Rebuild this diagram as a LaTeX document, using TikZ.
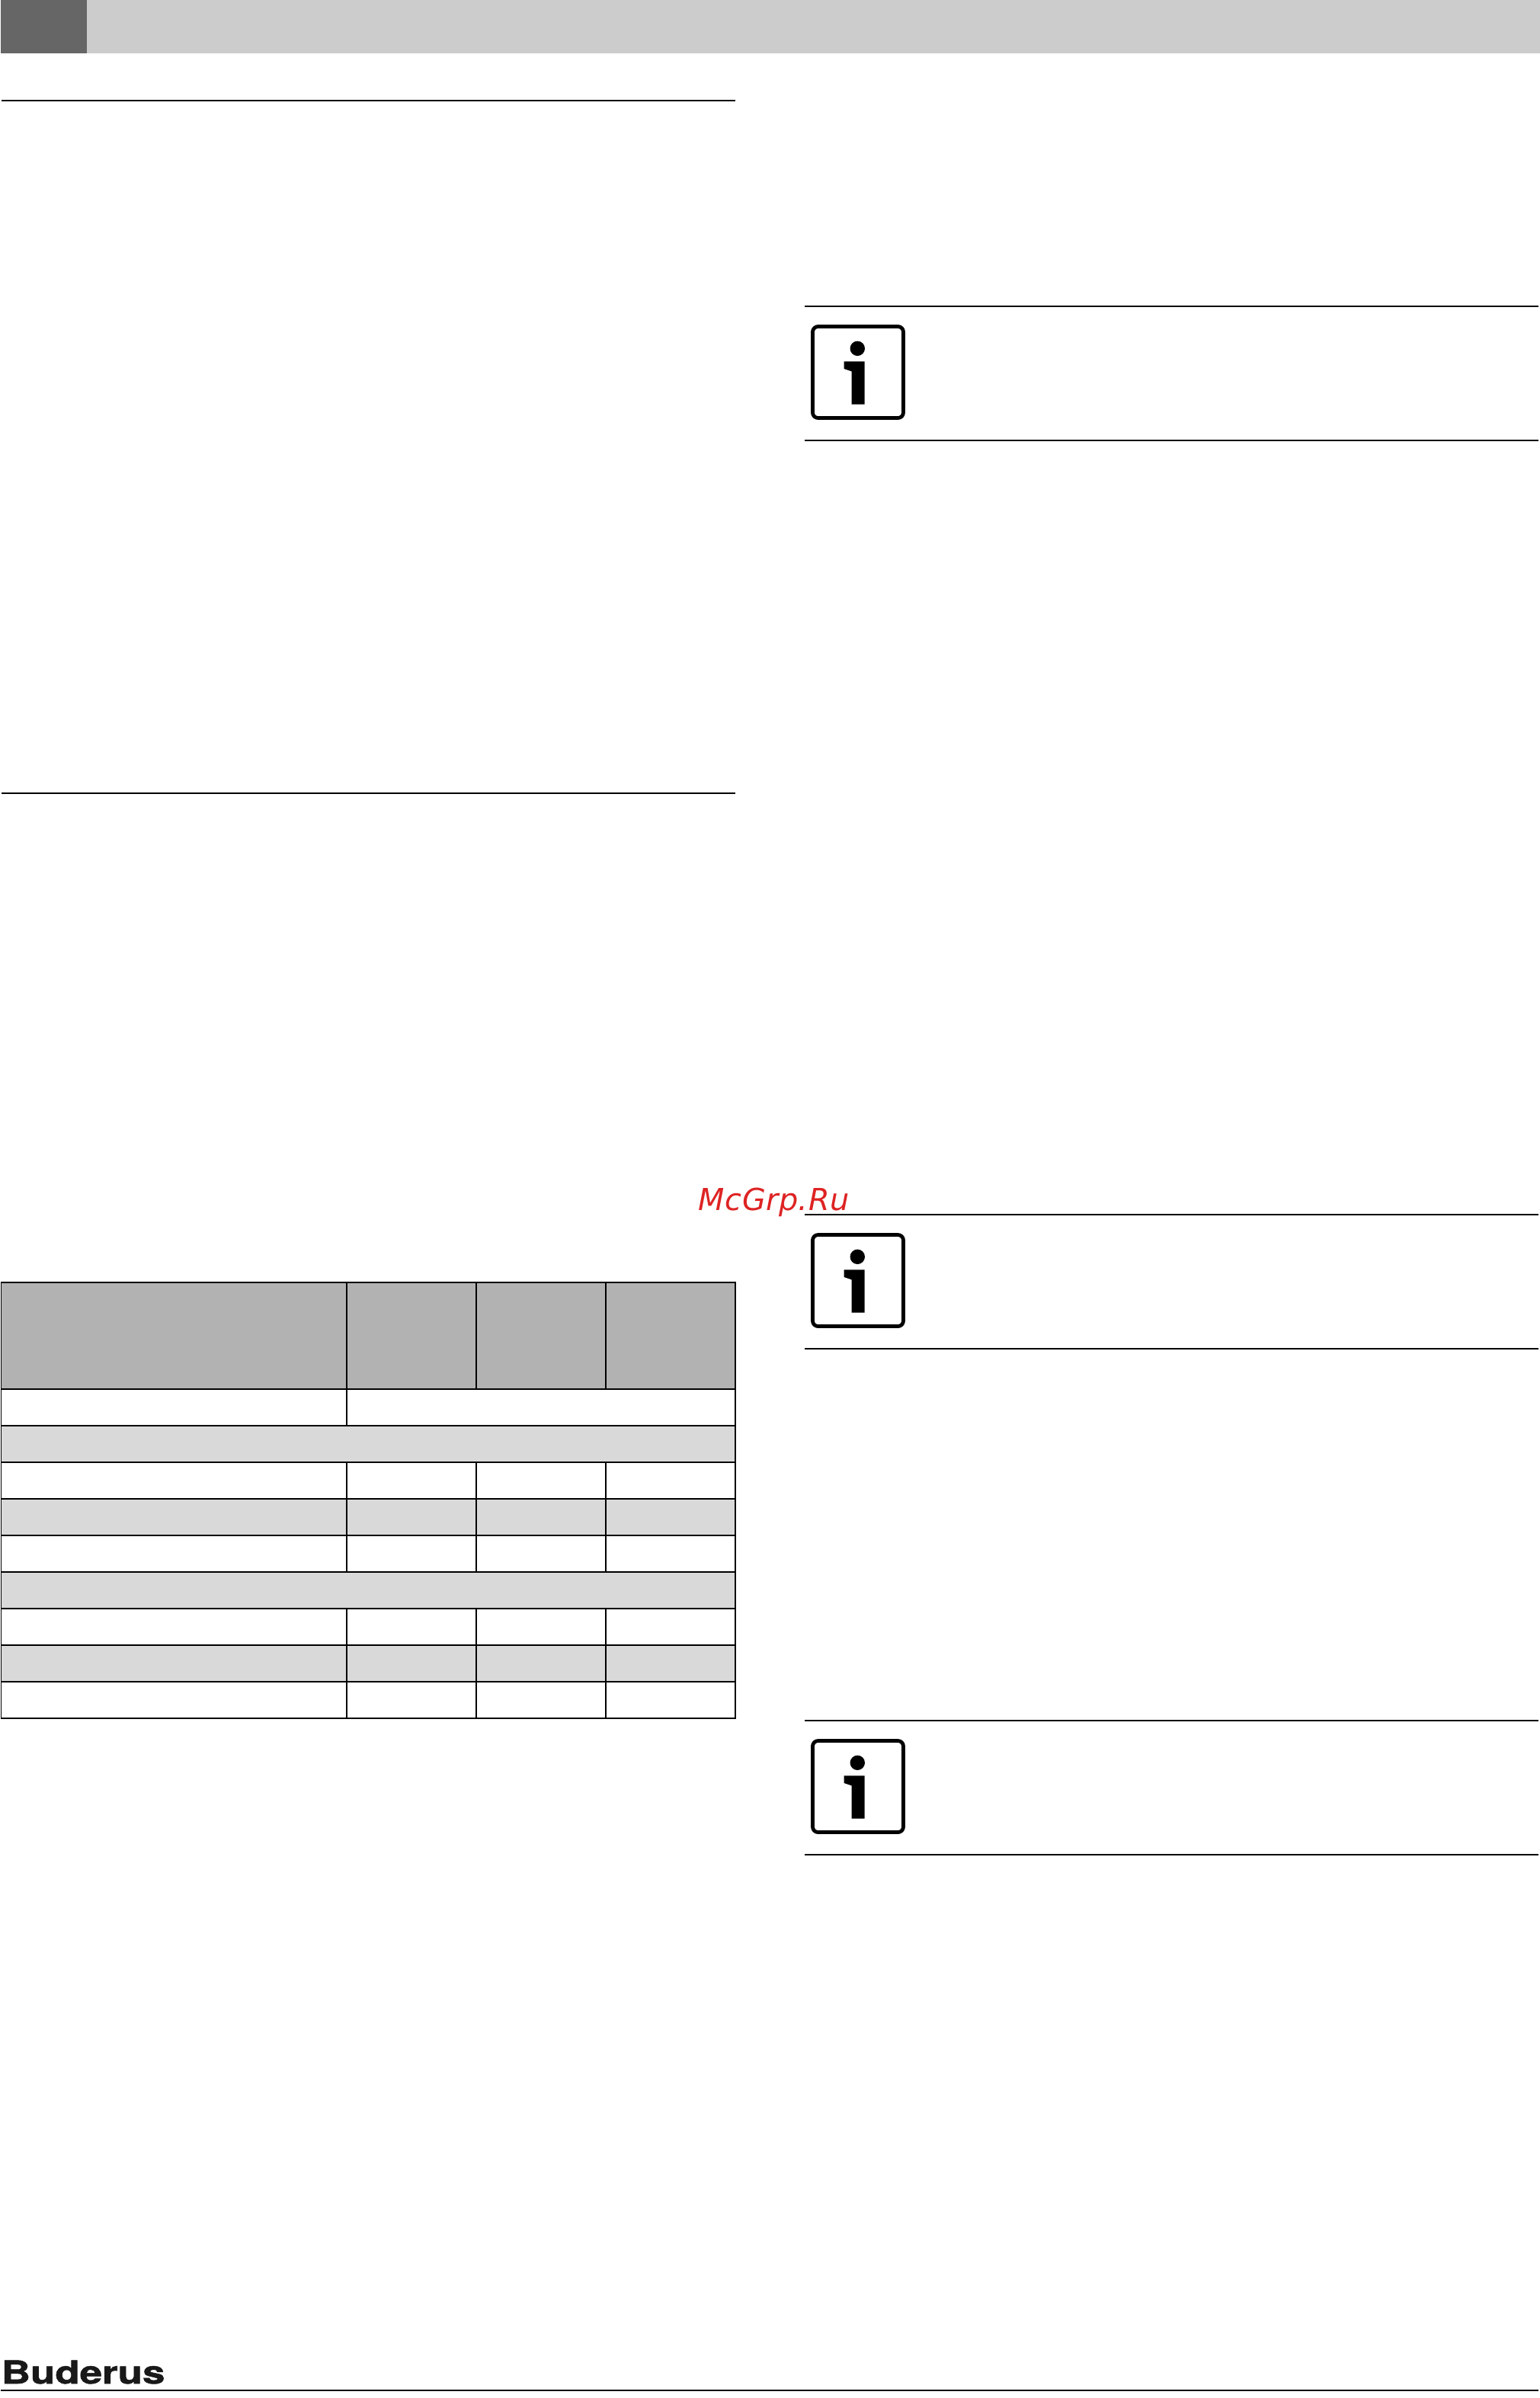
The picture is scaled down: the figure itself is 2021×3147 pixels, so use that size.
\documentclass[tikz,border=0pt]{standalone}
\usepackage{fontspec}
\setmainfont{DejaVu Sans}
\newfontfamily\logofont[BoldFeatures={FakeBold=1.2}]{TeX Gyre Heros}
\newfontfamily\wmfont[LetterSpace=1.2]{DejaVu Sans}
\definecolor{headgrey}{gray}{0.70}
\definecolor{bandgrey}{gray}{0.85}
\definecolor{barlight}{gray}{0.80}
\definecolor{bardark}{gray}{0.40}
\definecolor{wmred}{RGB}{222,35,35}
\tikzset{
  x=0.24pt,y=-0.24pt,
  rulewd/.style={line width=0.48pt,black},
  cellline/.style={line width=0.43pt,black},
  cellfine/.style={line width=0.41pt,black},
}
\newcommand{\infoicon}[2]{%
  \begin{scope}[shift={(#1,#2)}]
    \draw[line width=1.15pt,rounded corners=1.7pt,fill=white] (0,0) rectangle (119,120);
    \fill[black] (58.8,28.8) circle (9.7);
    \fill[black] (41.2,45.8) -- (68.2,45.8) -- (68.2,102.2) -- (51.2,102.2) -- (51.2,58.8) -- (41.2,55.5) -- cycle;
  \end{scope}}
\begin{document}
\begin{tikzpicture}
\useasboundingbox[fill=white] (0,0) rectangle (2021,3147);
\fill[barlight] (1,0) rectangle (2021,70);
\fill[bardark] (1,0) rectangle (114,70);
\draw[rulewd] (2,132) -- (965,132);
\draw[rulewd] (2,1041) -- (965,1041);
\draw[rulewd] (1056,401.7) -- (2019,401.7);
\draw[rulewd] (1056,577.7) -- (2019,577.7);
\draw[rulewd] (1056,1593.7) -- (2019,1593.7);
\draw[rulewd] (1056,1770) -- (2019,1770);
\draw[rulewd] (1056,2257.7) -- (2019,2257.7);
\draw[rulewd] (1056,2434) -- (2019,2434);
\draw[rulewd] (1,3137) -- (2019,3137);
\infoicon{1066.5}{428.5}
\infoicon{1066.5}{1620.5}
\infoicon{1066.5}{2284.5}
\fill[headgrey] (1,1683) rectangle (965,1823);
\fill[bandgrey] (1,1871) rectangle (965,1919);
\fill[bandgrey] (1,1967) rectangle (965,2015);
\fill[bandgrey] (1,2063) rectangle (965,2111);
\fill[bandgrey] (1,2159) rectangle (965,2207);
\draw[cellline] (1.5,1683) rectangle (965,2255);
\foreach \yy in {1823,1871,1919,1967,2015,2063,2111,2159,2207}
  \draw[cellline] (1.5,\yy) -- (965,\yy);
\draw[cellline] (455,1683) -- (455,1871);
\draw[cellline] (455,1919) -- (455,2063);
\draw[cellline] (455,2111) -- (455,2255);
\foreach \xx/\st in {625/cellfine,795/cellline}{
  \draw[\st] (\xx,1683) -- (\xx,1823);
  \draw[\st] (\xx,1919) -- (\xx,2063);
  \draw[\st] (\xx,2111) -- (\xx,2255);
}
\node[anchor=base west,inner sep=0pt,text=black!90] (logo) at (1,3128) {\scalebox{1.27}[1]{\fontsize{10pt}{12pt}\logofont\bfseries Buderus}};
\node[anchor=base west,inner sep=0pt,text=wmred] (wm) at (916,1588) {\fontsize{9.55pt}{11pt}\wmfont\itshape McGrp.Ru};
\end{tikzpicture}
\end{document}
